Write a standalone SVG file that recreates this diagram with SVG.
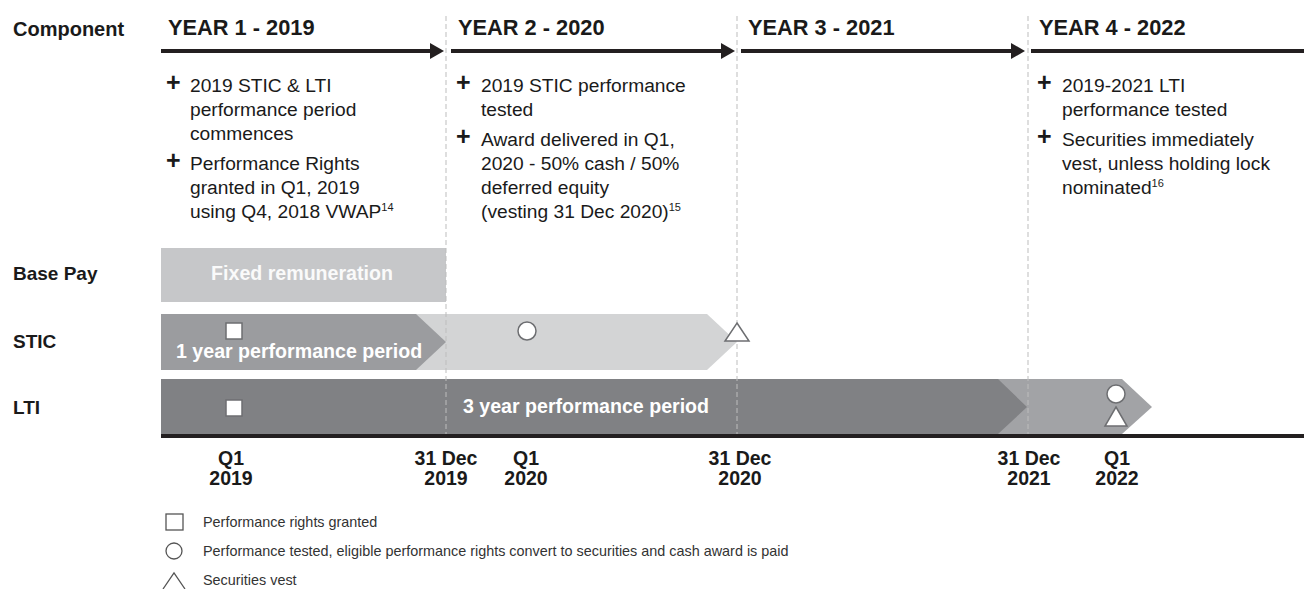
<svg xmlns="http://www.w3.org/2000/svg" width="1304" height="589" viewBox="0 0 1304 589">
<style>
text{font-family:"Liberation Sans",Arial,sans-serif;fill:#1a1a1a}
.lbl{font-size:19px;font-weight:bold}
.yr{font-size:21.8px;font-weight:bold}
.body{font-size:19.2px}
.plus{font-size:25px;font-weight:bold}
.sup{font-size:11px}
.bar{font-size:19.6px;font-weight:bold;fill:#ffffff}
.date{font-size:19.5px;font-weight:bold;text-anchor:middle}
.leg{font-size:14.4px;fill:#333}
.tl{stroke:#231f20;stroke-width:4}
.dash{stroke:#bdbdbd;stroke-width:1;stroke-dasharray:5 3}
.sym{fill:#fff;stroke:#6d6e71;stroke-width:1.5}
.lsym{fill:#fff;stroke:#555;stroke-width:1.3}
</style>
<rect width="1304" height="589" fill="#fff"/>

<g id="row-labels">
<text class="lbl" x="13" y="36" style="font-size:20px">Component</text>
<text class="lbl" x="13" y="280">Base Pay</text>
<text class="lbl" x="13" y="348">STIC</text>
<text class="lbl" x="13" y="414">LTI</text>
</g>

<g id="bars">
<rect id="base-pay" x="161" y="248" width="285" height="54" fill="#c6c7c9"/>
<text class="bar" x="302" y="280" text-anchor="middle" style="fill:#fafafa">Fixed remuneration</text>
<polygon id="stic-light" points="161,314 707,314 737,342 707,370 161,370" fill="#d3d4d5"/>
<polygon id="stic-dark" points="161,314 416,314 446,342 416,370 161,370" fill="#9b9c9f"/>
<text class="bar" x="176" y="358">1 year performance period</text>
<polygon id="lti-light" points="161,379 1122,379 1152,407 1122,434 161,434" fill="#a2a3a6"/>
<polygon id="lti-dark" points="161,379 998,379 1027,407 998,434 161,434" fill="#808184"/>
<text class="bar" x="586" y="413" text-anchor="middle">3 year performance period</text>
</g>

<g id="gridlines">
<line class="dash" x1="446" y1="16" x2="446" y2="436"/>
<line class="dash" x1="737" y1="16" x2="737" y2="436"/>
<line class="dash" x1="1028" y1="16" x2="1028" y2="436"/>
</g>

<g id="connectors">
<line class="tl" x1="161" y1="51" x2="432" y2="51"/>
<polygon points="430,43 444,51 430,59" fill="#231f20"/>
<line class="tl" x1="451" y1="51" x2="723" y2="51"/>
<polygon points="721,43 735,51 721,59" fill="#231f20"/>
<line class="tl" x1="741" y1="51" x2="1013" y2="51"/>
<polygon points="1011,43 1025,51 1011,59" fill="#231f20"/>
<line class="tl" x1="1031" y1="51" x2="1304" y2="51"/>
<line x1="161" y1="436" x2="1304" y2="436" stroke="#231f20" stroke-width="4"/>
</g>

<g id="markers">
<rect class="sym" x="226" y="323" width="16" height="16"/>
<circle class="sym" cx="527" cy="331" r="9"/>
<polygon class="sym" points="737,323 749,341 725,341"/>
<rect class="sym" x="226" y="400" width="16" height="16"/>
<circle class="sym" cx="1116" cy="394" r="9"/>
<polygon class="sym" points="1116,407 1127,426 1105,426"/>
</g>

<g id="year1">
<text class="yr" x="168" y="35">YEAR 1 - 2019</text>
<text class="plus" x="166" y="91">+</text>
<text class="body" x="190" y="92">2019 STIC &amp; LTI</text>
<text class="body" x="190" y="116">performance period</text>
<text class="body" x="190" y="140">commences</text>
<text class="plus" x="166" y="169">+</text>
<text class="body" x="190" y="170">Performance Rights</text>
<text class="body" x="190" y="194">granted in Q1, 2019</text>
<text class="body" x="190" y="218">using Q4, 2018 VWAP<tspan class="sup" dy="-7">14</tspan></text>
</g>

<g id="year2">
<text class="yr" x="458" y="35">YEAR 2 - 2020</text>
<text class="plus" x="456" y="91">+</text>
<text class="body" x="481" y="92">2019 STIC performance</text>
<text class="body" x="481" y="116">tested</text>
<text class="plus" x="456" y="145">+</text>
<text class="body" x="481" y="146">Award delivered in Q1,</text>
<text class="body" x="481" y="170">2020 - 50% cash / 50%</text>
<text class="body" x="481" y="194">deferred equity</text>
<text class="body" x="481" y="218">(vesting 31 Dec 2020)<tspan class="sup" dy="-7">15</tspan></text>
</g>

<g id="year3">
<text class="yr" x="748" y="35">YEAR 3 - 2021</text>
</g>

<g id="year4">
<text class="yr" x="1039" y="35">YEAR 4 - 2022</text>
<text class="plus" x="1037" y="91">+</text>
<text class="body" x="1062" y="92">2019-2021 LTI</text>
<text class="body" x="1062" y="116">performance tested</text>
<text class="plus" x="1037" y="145">+</text>
<text class="body" x="1062" y="146">Securities immediately</text>
<text class="body" x="1062" y="170">vest, unless holding lock</text>
<text class="body" x="1062" y="194">nominated<tspan class="sup" dy="-7">16</tspan></text>
</g>

<g id="dates">
<text class="date" x="231" y="465">Q1</text>
<text class="date" x="231" y="485">2019</text>
<text class="date" x="446" y="465">31 Dec</text>
<text class="date" x="446" y="485">2019</text>
<text class="date" x="526" y="465">Q1</text>
<text class="date" x="526" y="485">2020</text>
<text class="date" x="740" y="465">31 Dec</text>
<text class="date" x="740" y="485">2020</text>
<text class="date" x="1029" y="465">31 Dec</text>
<text class="date" x="1029" y="485">2021</text>
<text class="date" x="1117" y="465">Q1</text>
<text class="date" x="1117" y="485">2022</text>
</g>

<g id="legend">
<rect class="lsym" x="166" y="514" width="17" height="16"/>
<text class="leg" x="203" y="527">Performance rights granted</text>
<circle class="lsym" cx="174" cy="551" r="8"/>
<text class="leg" x="203" y="556">Performance tested, eligible performance rights convert to securities and cash award is paid</text>
<polyline points="163,589 174,573 185,589" fill="none" stroke="#555" stroke-width="1.3"/>
<text class="leg" x="203" y="585">Securities vest</text>
</g>
</svg>
